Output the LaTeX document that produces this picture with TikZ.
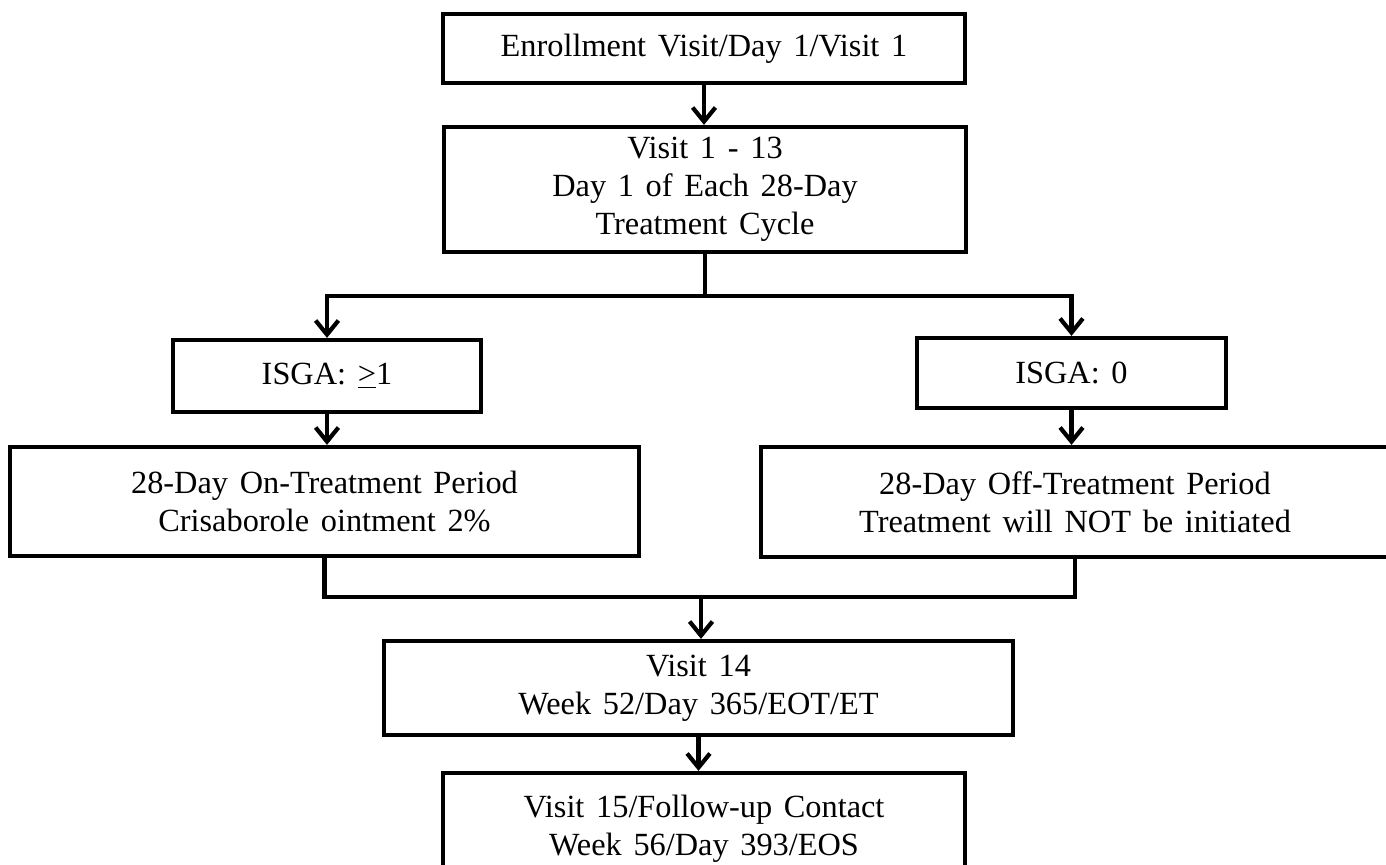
\documentclass[tikz,border=0pt]{standalone}
\usepackage{fontspec}
\setmainfont{Liberation Serif}[WordSpace=1.45]
\usetikzlibrary{arrows.meta}
\begin{document}
\begin{tikzpicture}[x=0.02cm,y=-0.02cm,
  box/.style={draw=black, line width=2.4pt, rectangle, align=center, inner sep=0pt,
    font=\fontsize{18.4}{21.5}\selectfont},
  arr/.style={line width=2.4pt, -{Straight Barb[length=8pt,width=13pt,line width=2.4pt]}},
  ln/.style={line width=2.4pt}]
\useasboundingbox (0,0) rectangle (1386,865);
\clip (0,0) rectangle (1386,865);
\fill[white] (0,0) rectangle (1386,865);
\node[box, minimum width=522*0.02cm, minimum height=69*0.02cm] (enr) at (704,48.5) {Enrollment Visit/Day 1/Visit 1};
\node[box, minimum width=522*0.02cm, minimum height=125*0.02cm] (v113) at (705,189.5) {Visit 1 - 13\\Day 1 of Each 28-Day\\Treatment Cycle};
\node[box, minimum width=308*0.02cm, minimum height=72*0.02cm] (isga1) at (327,376) {ISGA: \underline{>}1};
\node[box, minimum width=309*0.02cm, minimum height=70*0.02cm] (isga0) at (1071.5,373) {ISGA: 0};
\node[box, minimum width=629*0.02cm, minimum height=109*0.02cm] (on) at (324.5,501.5) {28-Day On-Treatment Period\\Crisaborole ointment 2\%};
\node[box, minimum width=628*0.02cm, minimum height=110*0.02cm] (off) at (1075,502) {28-Day Off-Treatment Period\\Treatment will NOT be initiated};
\node[box, minimum width=629*0.02cm, minimum height=94*0.02cm] (v14) at (698.5,688) {Visit 14\\Week 52/Day 365/EOT/ET};
\node[box, minimum width=522*0.02cm, minimum height=112*0.02cm] (v15) at (704,829) {Visit 15/Follow-up Contact\\Week 56/Day 393/EOS};
\coordinate (j1) at (705,296);
\coordinate (j2) at (701,597);
\draw[arr] (enr.south) -- (enr.south |- v113.north);
\draw[ln] (v113.south) -- (j1);
\draw[arr] (j1) -| (isga1.north);
\draw[arr] (j1) -| (isga0.north);
\draw[arr] (isga1.south) -- (isga1.south |- on.north);
\draw[arr] (isga0.south) -- (isga0.south |- off.north);
\draw[ln] (on.south) |- (j2) -| (off.south);
\draw[arr] (j2) -- (j2 |- v14.north);
\draw[arr] (v14.south) -- (v14.south |- v15.north);
\end{tikzpicture}
\end{document}
